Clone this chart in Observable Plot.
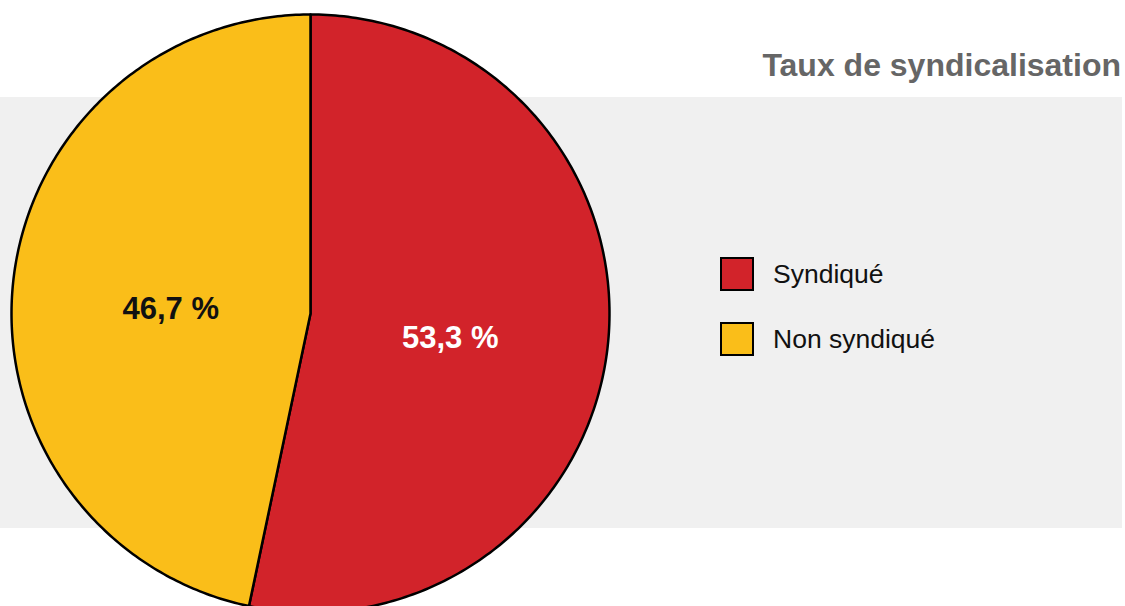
<!DOCTYPE html>
<html>
<head>
<meta charset="utf-8">
<script src="https://cdn.jsdelivr.net/npm/d3@7"></script>
<script src="https://cdn.jsdelivr.net/npm/@observablehq/plot@0.6"></script>
<style>
  html, body { margin: 0; padding: 0; background: #ffffff; overflow: hidden; }
  body { font-family: "Liberation Sans", Arial, Helvetica, sans-serif; }
  #wrap { position: relative; width: 1125px; height: 606px; overflow: hidden; }
  #band { position: absolute; left: 0; top: 97px; width: 1122px; height: 431px; background: #f0f0f0; }
  #chart { position: absolute; left: 0; top: 0; }
  #title { position: absolute; right: 4px; top: 50px; font-size: 32px; font-weight: bold; color: #666666; line-height: 31px; white-space: nowrap; }
  #legend { position: absolute; left: 720px; top: 257px; }
  .row { display: flex; align-items: center; height: 34px; margin-bottom: 31px; }
  .sw { width: 34px; height: 34px; box-sizing: border-box; border: 2.5px solid #000; }
  .lab { margin-left: 19px; font-size: 26.5px; color: #111; white-space: nowrap; }
</style>
</head>
<body>
<div id="wrap">
  <div id="band"></div>
  <div id="chart"></div>
  <div id="title"></div>
  <div id="legend"></div>
</div>
<script>
const title = "Taux de syndicalisation";
const categories = ["Syndiqué", "Non syndiqué"];
const values = [53.3, 46.7];
const valueLabels = ["53,3 %", "46,7 %"];
const colors = ["#d2232a", "#fabe19"];
const labelColors = ["#ffffff", "#111111"];

// pie geometry (unit circle, y up, angles clockwise from top)
const arcs = d3.pie().sort(null).value(d => d)(values);
const slices = arcs.map((a, i) => {
  const pts = [{x: 0, y: 0}];
  const n = 240;
  for (let k = 0; k <= n; k++) {
    const t = a.startAngle + (a.endAngle - a.startAngle) * k / n;
    pts.push({x: Math.sin(t), y: Math.cos(t)});
  }
  pts.push({x: 0, y: 0});
  return pts;
});
const labelData = arcs.map((a, i) => {
  const m = (a.startAngle + a.endAngle) / 2;
  return {x: 0.47 * Math.sin(m), y: 0.47 * Math.cos(m), text: valueLabels[i], color: labelColors[i]};
});

const marks = slices.map((pts, i) =>
  Plot.line(pts, {x: "x", y: "y", fill: colors[i], stroke: "#000", strokeWidth: 2.5, strokeLinejoin: "round", curve: "linear"})
);
marks.push(Plot.text(labelData, {
  x: "x", y: "y", text: "text", fill: "color", dy: 10,
  fontSize: 31, fontWeight: "bold", fontFamily: "Liberation Sans, Arial, Helvetica, sans-serif"
}));

const plot = Plot.plot({
  width: 1125,
  height: 606,
  margin: 0,
  x: {domain: [-1, 1], range: [11, 609], axis: null},
  y: {domain: [-1, 1], range: [612, 14], axis: null},
  color: {type: "identity"},
  style: {background: "transparent", overflow: "visible"},
  marks
});
document.getElementById("chart").appendChild(plot);

document.getElementById("title").textContent = title;
const legend = document.getElementById("legend");
categories.forEach((c, i) => {
  const row = document.createElement("div");
  row.className = "row";
  const sw = document.createElement("div");
  sw.className = "sw";
  sw.style.background = colors[i];
  const lab = document.createElement("div");
  lab.className = "lab";
  lab.textContent = c;
  row.appendChild(sw);
  row.appendChild(lab);
  legend.appendChild(row);
});
</script>
</body>
</html>
